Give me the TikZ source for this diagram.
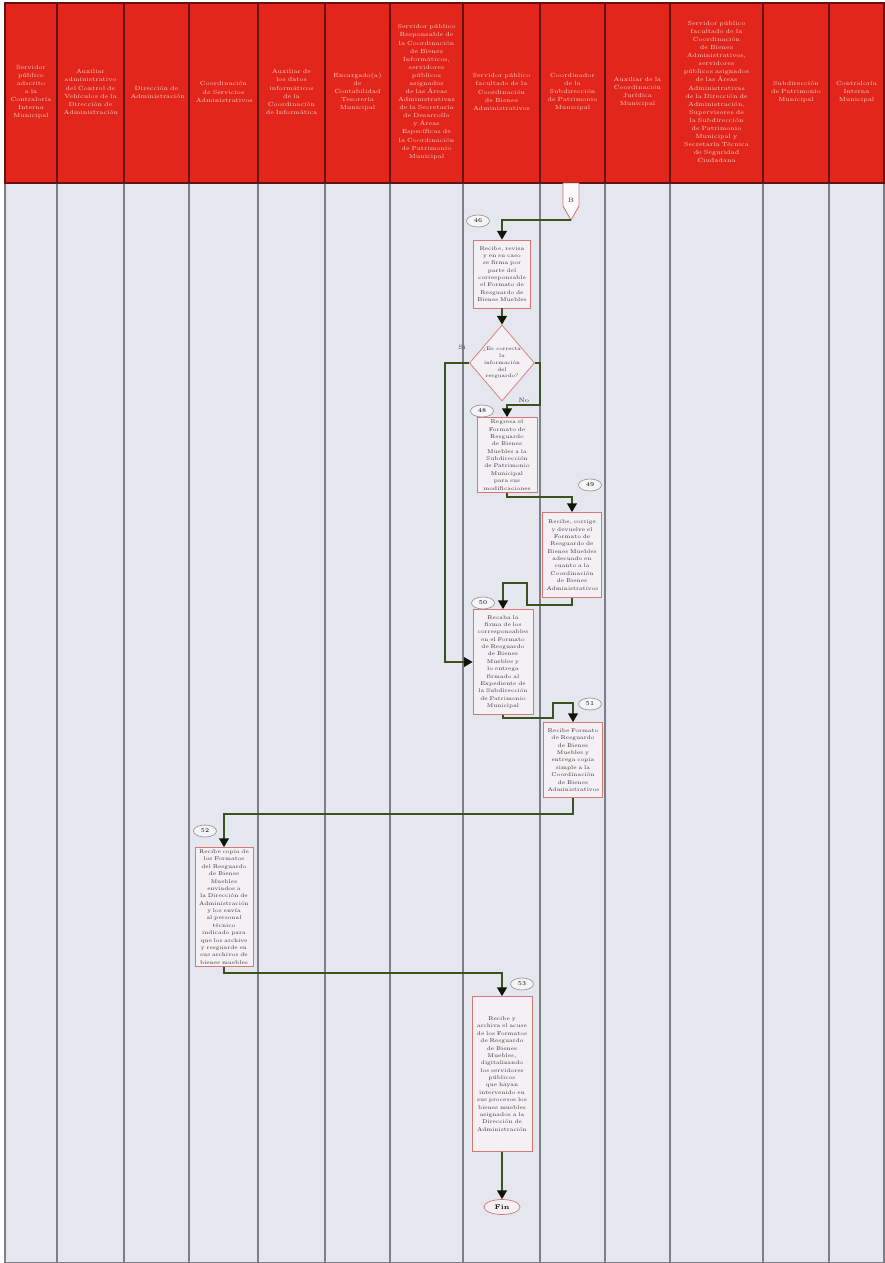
\documentclass[tikz,border=0pt]{standalone}
\usetikzlibrary{arrows.meta,shapes.geometric}
\definecolor{headred}{RGB}{226,38,28}
\definecolor{lanebg}{RGB}{229,231,238}
\definecolor{laneline}{RGB}{125,127,135}
\definecolor{flowgreen}{RGB}{58,82,32}
\definecolor{boxred}{RGB}{214,120,115}
\definecolor{boxfill}{RGB}{244,240,243}
\definecolor{headtext}{RGB}{250,208,198}
\newcommand\nohyph{\hyphenpenalty=10000 \exhyphenpenalty=10000 }
\begin{document}
\begin{tikzpicture}[x=0.2mm, y=-0.2mm,
    lane/.style={draw=laneline, line width=0.6pt, fill=lanebg},
    head/.style={draw=black!55!headred, line width=0.6pt, fill=headred},
    headtxt/.style={text=headtext, font=\fontsize{3.4}{4.6}\selectfont\nohyph, align=center, inner sep=0pt},
    proc/.style={draw=boxred, line width=0.4pt, fill=boxfill, align=center, inner sep=1pt, text width=10.2mm, font=\fontsize{3.1}{4.2}\selectfont\nohyph, text=black!80},
    decision/.style={diamond, draw=boxred, line width=0.4pt, fill=boxfill, inner sep=0pt},
    stepnum/.style={ellipse, draw=black!40, fill=white!60!lanebg, minimum width=4.6mm, minimum height=2.4mm, inner sep=0pt, font=\fontsize{3.4}{4}\selectfont},
    lbl/.style={font=\fontsize{3.6}{4}\selectfont, text=black!80, inner sep=0pt},
    flow/.style={draw=flowgreen, line width=1.1pt, -{Triangle[length=5pt,width=5.5pt,color=black!75!flowgreen]}}
]
\useasboundingbox (0,0) rectangle (884,1263);

% lanes and headers
\foreach \xa/\xb/\txt [count=\i] in {
    5/57/{Servidor público adscrito a la Contraloría Interna Municipal},
    57/124/{Auxiliar administrativo del Control de Vehículos de la Dirección de Administración},
    124/189/{Dirección de Administración},
    189/258/{Coordinación de Servicios Administrativos},
    258/325/{Auxiliar de los datos informáticos de la Coordinación de Informática},
    325/390/{Encargado(a) de Contabilidad Tesorería Municipal},
    390/463/{Servidor público Responsable de la Coordinación de Bienes Informáticos, servidores públicos asignados de las Áreas Administrativas de la Secretaría de Desarrollo y Áreas Específicas de la Coordinación de Patrimonio Municipal},
    463/540/{Servidor público facultado de la Coordinación de Bienes Administrativos},
    540/605/{Coordinador de la Subdirección de Patrimonio Municipal},
    605/670/{Auxiliar de la Coordinación Jurídica Municipal},
    670/763/{Servidor público facultado de la Coordinación de Bienes Administrativos, servidores públicos asignados de las Áreas Administrativas de la Dirección de Administración, Supervisores de la Subdirección de Patrimonio Municipal y Secretaría Técnica de Seguridad Ciudadana},
    763/829/{Subdirección de Patrimonio Municipal},
    829/884/{Contraloría Interna Municipal}} {
  \draw[lane] (\xa,183) rectangle (\xb,1263);
  \draw[head] (\xa,3) rectangle (\xb,183);
  \pgfmathsetmacro\tw{(\xb-\xa)*0.2*0.8}
  \node[headtxt, text width=\tw mm] (h\i) at ({(\xa+\xb)/2},92) {\txt};
}

% off-page connector
\draw[draw=boxred, line width=0.5pt, fill=white!70!boxfill] (563,183) -- (579,183) -- (579,206) -- (571,220) -- (563,206) -- cycle;
\node[lbl] (conB) at (571,200) {B};
\coordinate (conBtip) at (571,220);

% activities
\node[proc, minimum width=11.4mm, minimum height=13.6mm] (box1) at (502,274) {Recibe, revisa y en su caso se firma por parte del corresponsable el Formato de Resguardo de Bienes Muebles};
\node[decision, minimum width=13mm, minimum height=15.2mm] (dia) at (502,363) {};
\node[lbl, align=center, font=\fontsize{2.9}{3.9}\selectfont] (diatxt) at (dia.center) {¿Es correcta\\la\\información\\del\\resguardo?};
\node[proc, minimum width=12mm, minimum height=15mm] (box2) at (507,455) {Regresa el Formato de Resguardo de Bienes Muebles a la Subdirección de Patrimonio Municipal para sus modificaciones};
\node[proc, minimum width=11.8mm, minimum height=17mm] (box3) at (572,555) {Recibe, corrige y devuelve el Formato de Resguardo de Bienes Muebles adecuado en cuanto a la Coordinación de Bienes Administrativos};
\node[proc, minimum width=12mm, minimum height=21mm] (box4) at (503,662) {Recaba la firma de los corresponsables en el Formato de Resguardo de Bienes Muebles y lo entrega firmado al Expediente de la Subdirección de Patrimonio Municipal};
\node[proc, minimum width=11.8mm, minimum height=15mm] (box5) at (573,760) {Recibe Formato de Resguardo de Bienes Muebles y entrega copia simple a la Coordinación de Bienes Administrativos};
\node[proc, minimum width=11.6mm, minimum height=23.8mm] (box6) at (224,907) {Recibe copia de los Formatos del Resguardo de Bienes Muebles enviados a la Dirección de Administración y los envía al personal técnico indicado para que los archive y resguarde en sus archivos de bienes muebles};
\node[proc, minimum width=12mm, minimum height=31mm] (box7) at (502,1074) {Recibe y archiva el acuse de los Formatos de Resguardo de Bienes Muebles, digitalizando los servidores públicos que hayan intervenido en sus procesos los bienes muebles asignados a la Dirección de Administración};
\node[ellipse, draw=boxred, line width=0.4pt, fill=boxfill, minimum width=7.2mm, minimum height=3mm, inner sep=0pt, font=\fontsize{3.8}{4}\selectfont\bfseries] (fin) at (502,1207) {Fin};

% step numbers
\node[stepnum] (n46) at (478,221) {46};
\node[stepnum] (n48) at (482,411) {48};
\node[stepnum] (n49) at (590,485) {49};
\node[stepnum] (n50) at (483,603) {50};
\node[stepnum] (n51) at (590,704) {51};
\node[stepnum] (n52) at (205,831) {52};
\node[stepnum] (n53) at (522,984) {53};

\node[lbl] (lblsi) at (462,347) {Si};
\node[lbl] (lblno) at (524,400) {No};

% connectors
\draw[flow] (conBtip) -| (box1.north);
\draw[flow] (box1.south) -- (dia.north);
\draw[flow] (dia.east) -- ++(5,0) -- ++(0,42) -| (box2.north);
\draw[flow] (dia.west) -- ++(-24,0) |- (box4.west);
\draw[flow] (box2.south) -- ++(0,4) -| (box3.north);
\draw[flow] (box3.south) -- ++(0,7) -- ++(-45,0) -- ++(0,-22) -| (box4.north);
\draw[flow] (box4.south) -- ++(0,3) -- ++(50,0) -- ++(0,-15) -| (box5.north);
\draw[flow] (box5.south) -- ++(0,16) -| (box6.north);
\draw[flow] (box6.south) -- ++(0,6) -| (box7.north);
\draw[flow] (box7.south) -- (fin.north);
\end{tikzpicture}
\end{document}
